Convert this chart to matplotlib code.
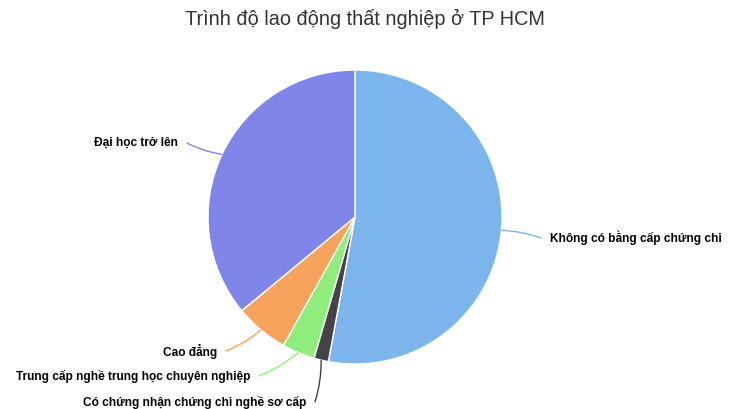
import matplotlib.pyplot as plt
import numpy as np

# du lieu doc tu hinh (%)
labels = ["Không có bằng cấp chứng chỉ", "Có chứng nhận chứng chỉ nghề sơ cấp",
          "Trung cấp nghề trung học chuyên nghiệp", "Cao đẳng", "Đại học trở lên"]
values = [52.9, 1.6, 3.6, 5.9, 36.0]
colors = ["#7cb5ec", "#434348", "#90ed7d", "#f7a35c", "#8085e9"]

# vi tri nhan (pixel, goc tren trai) va phia can le
label_pos = [(550, 238, "left"), (306, 402, "right"), (250, 376, "right"),
             (217, 351, "right"), (178, 143, "right")]

W, H = 730, 409
fig = plt.figure(figsize=(W / 100, H / 100), dpi=100)
cx, cy, r = 355, 217, 147
ax = fig.add_axes([(cx - r) / W, (H - cy - r) / H, 2 * r / W, 2 * r / H])
wedges, _ = ax.pie(values, colors=colors, startangle=90, counterclock=False, radius=1,
                   wedgeprops=dict(edgecolor="white", linewidth=1))
ax.set_xlim(-1, 1)
ax.set_ylim(-1, 1)
ax.set_aspect("equal")
ax.axis("off")

for w, lab, col, (px, py, ha) in zip(wedges, labels, colors, label_pos):
    ang = np.deg2rad((w.theta1 + w.theta2) / 2)
    x0, y0 = np.cos(ang), np.sin(ang)
    tx = px - 9 if ha == "left" else px + 9
    ax.annotate("", xy=(x0, y0), xycoords="data",
                xytext=(tx, H - py), textcoords="figure pixels",
                arrowprops=dict(arrowstyle="-", color=col, lw=1,
                                shrinkA=0, shrinkB=0,
                                connectionstyle="arc3,rad=0.08"))
    fig.text(px / W, (H - py) / H, lab, ha=ha, va="center", fontsize=8.6,
             fontweight="bold", color="#000000", family=["Liberation Sans", "DejaVu Sans"])

fig.text(365 / W, (H - 19) / H, "Trình độ lao động thất nghiệp ở TP HCM", ha="center",
         va="center", fontsize=14.3, color="#333333",
         family=["Liberation Sans Narrow", "Liberation Sans", "DejaVu Sans"])

fig.savefig("out.png", dpi=100)
